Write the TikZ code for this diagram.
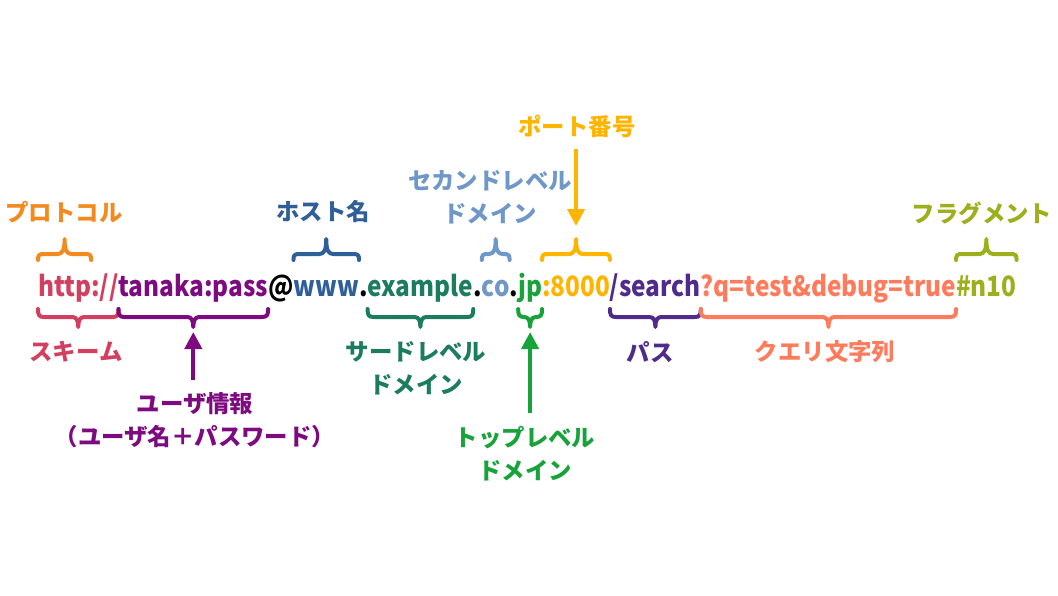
\documentclass[tikz,border=0pt]{standalone}
\usepackage{fontspec}
\setmainfont{Noto Sans CJK JP}
\newfontfamily\urlfont{Noto Sans CJK JP}[FakeStretch=0.87]
\usetikzlibrary{arrows.meta,calc}
\definecolor{cRed}{HTML}{D33F5F}
\definecolor{cPurple}{HTML}{7E0A80}
\definecolor{cBlue}{HTML}{2F5F98}
\definecolor{cTeal}{HTML}{1C7C5E}
\definecolor{cLight}{HTML}{6F98C8}
\definecolor{cGreen}{HTML}{18A33A}
\definecolor{cAmber}{HTML}{FFB400}
\definecolor{cIndigo}{HTML}{4F2C8C}
\definecolor{cSalmon}{HTML}{FF7B5C}
\definecolor{cOlive}{HTML}{9DAF1C}
\definecolor{cOrange}{HTML}{F28A1E}
\tikzset{
  brcline/.style={line width=4pt,line cap=round,line join=round},
  topbrace/.pic={\pgfmathsetmacro\bw{#1}\pgfmathsetmacro\bm{\bw/2}
    \draw[brcline] (0,6) .. controls (0,1) and (1,0) .. (6,0) -- (\bm-7,0)
      .. controls (\bm-2,0) and (\bm,-4) .. (\bm,-15)
      .. controls (\bm,-4) and (\bm+2,0) .. (\bm+7,0) -- (\bw-6,0)
      .. controls (\bw-1,0) and (\bw,1) .. (\bw,6);},
  botbrace/.pic={\pgfmathsetmacro\bw{#1}\pgfmathsetmacro\bm{\bw/2}
    \draw[brcline] (0,-8) .. controls (0,-2) and (1,0) .. (6,0) -- (\bm-6,0)
      .. controls (\bm-2,0) and (\bm,3) .. (\bm,10)
      .. controls (\bm,3) and (\bm+2,0) .. (\bm+6,0) -- (\bw-6,0)
      .. controls (\bw-1,0) and (\bw,-2) .. (\bw,-8);}
}
\begin{document}
\begin{tikzpicture}[x=1pt,y=-1pt,
  url/.style={inner sep=0pt,outer sep=0pt,anchor=base west,font=\urlfont\fontsize{28}{34}\selectfont\bfseries},
  lbl/.style={inner sep=0pt,outer sep=0pt,align=center,font=\fontsize{23.4}{33}\selectfont\bfseries},
  arr/.style={line width=4pt,-{Triangle[length=17pt,width=17pt]}}]
\useasboundingbox (0,0) rectangle (1058,595);
% URL pieces
\node[url,text=cRed] (h) at (38,296) {http};
\node[url,text=cRed] (sl) at (h.base east) {://};
\node[url,text=cPurple] (user) at (sl.base east) {tanaka:pass};
\node[url,text=black] (at) at (user.base east) {@};
\node[url,text=cBlue] (www) at (at.base east) {www};
\node[url,text=black] (d1) at (www.base east) {.};
\node[url,text=cTeal] (ex) at (d1.base east) {example};
\node[url,text=black] (d2) at (ex.base east) {.};
\node[url,text=cLight] (co) at (d2.base east) {co};
\node[url,text=black] (d3) at (co.base east) {.};
\node[url,text=cGreen] (jp) at (d3.base east) {jp};
\node[url,text=cAmber] (port) at (jp.base east) {:8000};
\node[url,text=cIndigo] (path) at (port.base east) {/search};
\node[url,text=cSalmon] (query) at (path.base east) {?q=test\&debug=true};
\node[url,text=cOlive] (frag) at (query.base east) {\#n10};
\coordinate (ytop) at (0,254);
\coordinate (ybot) at (0,317);
% top braces
\path let \p1=($(h.east)-(h.west)$) in (h.west |- ytop) pic[color=cOrange]{topbrace=\x1};
\path let \p1=($(www.east)-(www.west)$) in (www.west |- ytop) pic[color=cBlue]{topbrace=\x1};
\path let \p1=($(co.east)-(co.west)$) in (co.west |- ytop) pic[color=cLight]{topbrace=\x1};
\path let \p1=($(port.east)-(port.west)$) in (port.west |- ytop) pic[color=cAmber]{topbrace=\x1};
\path let \p1=($(frag.east)-(frag.west)$) in (frag.west |- ytop) pic[color=cOlive]{topbrace=\x1};
% bottom braces
\path let \p1=($(sl.east)-(h.west)$) in (h.west |- ybot) pic[color=cRed]{botbrace=\x1};
\path let \p1=($(user.east)-(user.west)$) in (user.west |- ybot) pic[color=cPurple]{botbrace=\x1};
\path let \p1=($(ex.east)-(ex.west)$) in (ex.west |- ybot) pic[color=cTeal]{botbrace=\x1};
\path let \p1=($(jp.east)-(jp.west)$) in (jp.west |- ybot) pic[color=cGreen]{botbrace=\x1};
\path let \p1=($(path.east)-(path.west)$) in (path.west |- ybot) pic[color=cIndigo]{botbrace=\x1};
\path let \p1=($(query.east)-(query.west)$) in (query.west |- ybot) pic[color=cSalmon]{botbrace=\x1};
% brace tips
\coordinate (porttip) at ($(port.west |- ytop)!0.5!(port.east |- ytop)+(0,-15)$);
\coordinate (usertip) at ($(user.west |- ybot)!0.5!(user.east |- ybot)+(0,10)$);
\coordinate (jptip) at ($(jp.west |- ybot)!0.5!(jp.east |- ybot)+(0,10)$);
% labels
\node[lbl,text=cOrange] (lproto) at (64,212) {プロトコル};
\node[lbl,text=cBlue] (lhost) at (323,212) {ホスト名};
\node[lbl,text=cLight] (lsld) at (490,197) {セカンドレベル\\ドメイン};
\node[lbl,text=cAmber] (lport) at (577,126) {ポート番号};
\node[lbl,text=cOlive] (lfrag) at (982,213) {フラグメント};
\node[lbl,text=cRed] (lscheme) at (76,352) {スキーム};
\node[lbl,text=cPurple] (luser) at (195,420) {ユーザ情報\\（ユーザ名＋パスワード）};
\node[lbl,text=cTeal] (ltld3) at (416,368) {サードレベル\\ドメイン};
\node[lbl,text=cGreen] (ltld) at (525,454) {トップレベル\\ドメイン};
\node[lbl,text=cIndigo] (lpath) at (650,352) {パス};
\node[lbl,text=cSalmon] (lquery) at (825,352) {クエリ文字列};
% arrows
\draw[arr,cAmber,shorten <=12pt,shorten >=13pt] (lport.south -| porttip) -- (porttip);
\draw[arr,cPurple,shorten <=12pt,shorten >=5pt] (luser.north -| usertip) -- (usertip);
\draw[arr,cGreen,shorten <=14pt,shorten >=5pt] (ltld.north -| jptip) -- (jptip);
\end{tikzpicture}
\end{document}
